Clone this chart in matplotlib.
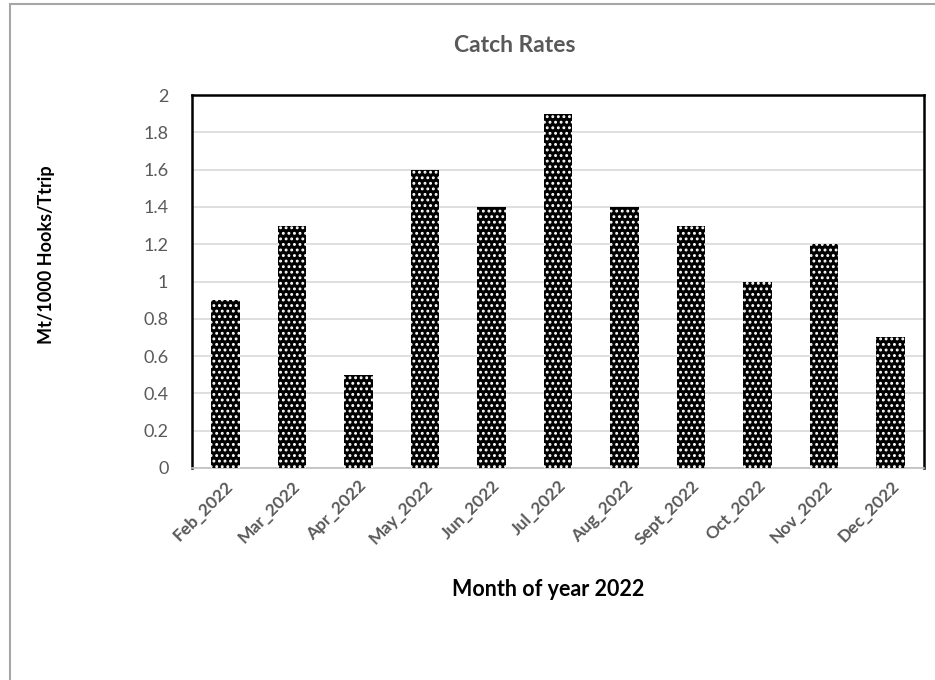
import matplotlib.pyplot as plt
import matplotlib.transforms as mtransforms
from matplotlib.patches import Rectangle

months = ["Feb_2022", "Mar_2022", "Apr_2022", "May_2022", "Jun_2022", "Jul_2022",
          "Aug_2022", "Sept_2022", "Oct_2022", "Nov_2022", "Dec_2022"]
catch_rate = [0.9, 1.3, 0.5, 1.6, 1.4, 1.9, 1.4, 1.3, 1.0, 1.2, 0.7]
y_ticks = [0, 0.2, 0.4, 0.6, 0.8, 1, 1.2, 1.4, 1.6, 1.8, 2]
y_tick_labels = ["0", "0.2", "0.4", "0.6", "0.8", "1", "1.2", "1.4", "1.6", "1.8", "2"]

plt.rcParams['font.family'] = ['Lato', 'DejaVu Sans']
plt.rcParams['hatch.linewidth'] = 1.3
grey = '#595959'

fig = plt.figure(figsize=(9.35, 6.8), dpi=100)
ax = fig.add_axes([192 / 935, 1 - 468 / 680, 732 / 935, 373 / 680])

x = list(range(len(months)))
ax.bar(x, catch_rate, width=0.43, color='black', edgecolor='white',
       hatch='...', linewidth=0, zorder=3)

ax.set_xlim(-0.5, len(months) - 0.5)
ax.set_ylim(0, 2)
ax.set_yticks(y_ticks)
ax.set_yticklabels(y_tick_labels, fontsize=13, color=grey)
ax.set_xticks(x)
ax.set_xticklabels(months, rotation=45, ha='right', rotation_mode='anchor',
                   fontsize=12.5, color=grey, fontweight='bold')
# shift x tick labels slightly right, as in the original
shift = mtransforms.ScaledTranslation(12 / 100, 0, fig.dpi_scale_trans)
for lbl in ax.get_xticklabels():
    lbl.set_transform(lbl.get_transform() + shift)
ax.tick_params(axis='y', length=0, pad=17)
ax.tick_params(axis='x', length=0, pad=7)
ax.grid(axis='y', color='#d9d9d9', linewidth=1.2, zorder=0)

for side in ['top', 'left', 'right']:
    ax.spines[side].set_color('black')
    ax.spines[side].set_linewidth(1.8)
ax.spines['bottom'].set_color('#bfbfbf')
ax.spines['bottom'].set_linewidth(1.2)

fig.text(515 / 935, 1 - 46 / 680, "Catch Rates", fontsize=16.5, fontweight='bold',
         color=grey, ha='center', va='center')
fig.text(47 / 935, 1 - 255 / 680, "Mt/1000 Hooks/Ttrip", fontsize=13, fontweight='bold',
         rotation=90, ha='center', va='center')
fig.text(548 / 935, 1 - 590 / 680, "Month of year 2022", fontsize=15.5, fontweight='bold',
         ha='center', va='center')

# outer chart frame (only top and left edges visible in the crop)
fig.patches.append(Rectangle((10 / 935, -0.1), 1.2, 1 - 4 / 680 + 0.1,
                             transform=fig.transFigure, fill=False,
                             edgecolor='#a6a6a6', linewidth=1.5))

fig.savefig("out.png", dpi=100)
